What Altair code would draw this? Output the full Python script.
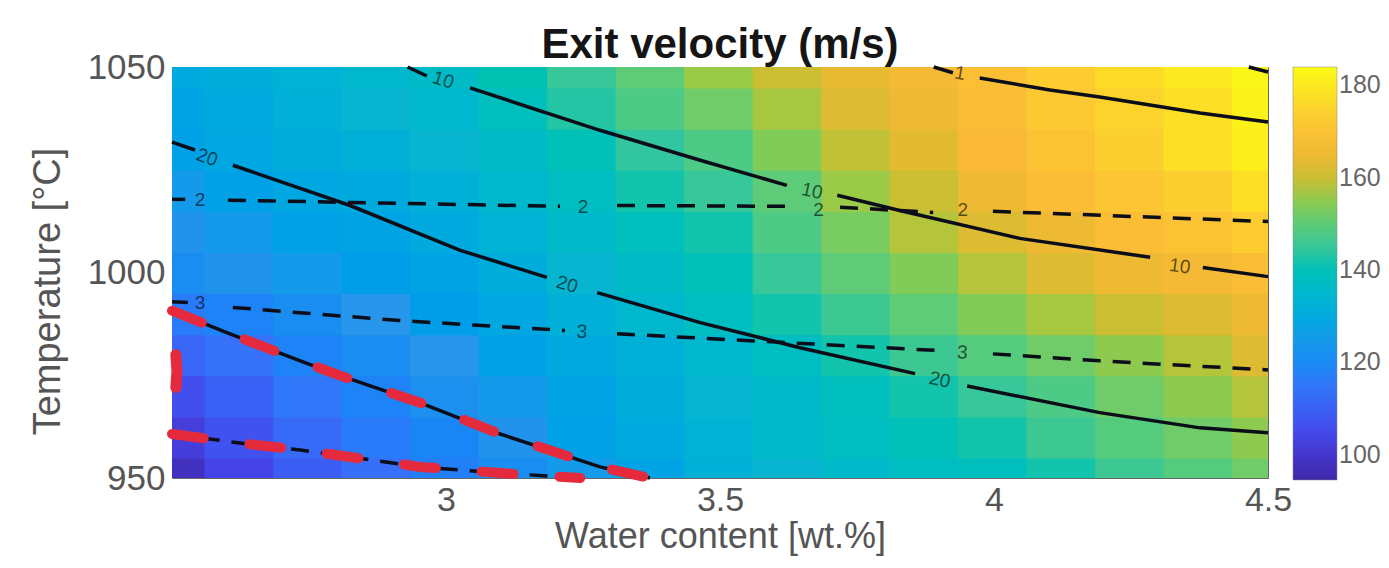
import altair as alt
import pandas as pd

# ---------------- data ----------------
X_NODES = [2.5, 2.625, 2.75, 2.875, 3.0, 3.125, 3.25, 3.375, 3.5,
           3.625, 3.75, 3.875, 4.0, 4.125, 4.25, 4.375, 4.5]
T_NODES = [950, 960, 970, 980, 990, 1000, 1010, 1020, 1030, 1040, 1050]

# exit velocity (m/s), one row per temperature (950 -> 1050)
V_950 = [98, 104, 109, 113, 117, 121, 125, 128, 132, 134, 136, 138, 139, 142, 146, 149, 152]
V_960 = [102, 107, 112, 116, 119, 123, 127, 130, 133, 136, 138, 140, 142, 146, 149, 152, 155]
V_970 = [106, 110, 115, 118, 122, 125, 128, 131, 134, 136, 139, 142, 145, 148, 152, 155, 158]
V_980 = [111, 114, 118, 121, 124, 127, 130, 132, 135, 138, 142, 146, 149, 152, 155, 158, 162]
V_990 = [116, 118, 121, 124, 126, 129, 132, 135, 138, 142, 146, 150, 154, 157, 160, 162, 165]
V_1000 = [121, 123, 125, 126, 128, 131, 134, 137, 140, 145, 150, 154, 158, 162, 165, 166, 168]
V_1010 = [123, 125, 127, 128, 130, 133, 136, 139, 142, 148, 153, 158, 162, 165, 168, 170, 173]
V_1020 = [125, 127, 129, 130, 132, 135, 138, 142, 145, 150, 156, 160, 165, 168, 171, 174, 178]
V_1030 = [127, 129, 131, 132, 134, 137, 140, 144, 148, 154, 159, 163, 167, 170, 174, 178, 181]
V_1040 = [128, 130, 132, 134, 135, 139, 143, 148, 152, 157, 162, 165, 168, 172, 175, 178, 182]
V_1050 = [130, 131, 133, 135, 137, 141, 145, 150, 156, 160, 164, 166, 169, 173, 177, 180, 183]
VELOCITY = [V_950, V_960, V_970, V_980, V_990, V_1000, V_1010, V_1020, V_1030, V_1040, V_1050]

X_TICKS = [3, 3.5, 4, 4.5]
Y_TICKS = [950, 1000, 1050]
CBAR_TICKS = [100, 120, 140, 160, 180]

# parula-like colour stops
C_DOMAIN = [94.5, 104.5, 114, 124, 134, 144, 154, 161, 167, 174, 184]
C_RANGE = ["#3e26a8", "#4646eb", "#3773fa", "#2796eb", "#08b5d0", "#31c69f",
           "#81cc59", "#d7bb32", "#fab937", "#fccf30", "#f9fb15"]

# contour lines (water content, temperature), broken where labelled
SOLID = {
    "1a": ([3.89, 3.925], [1050, 1048.6]),
    "1b": ([3.974, 4.102, 4.193, 4.376, 4.5], [1047.3, 1044.4, 1042.7, 1038.8, 1036.6]),
    "1c": ([4.465, 4.5], [1050, 1048.8]),
    "10a": ([2.93, 2.965], [1050, 1047.8]),
    "10b": ([3.044, 3.281, 3.464, 3.622], [1044.9, 1034.6, 1027.3, 1021.2]),
    "10c": ([3.714, 3.828, 4.047, 4.285], [1018.8, 1015.1, 1008.3, 1003.7]),
    "10d": ([4.381, 4.5], [1001.2, 999.0]),
    "20a": ([2.5, 2.542], [1031.7, 1029.8]),
    "20b": ([2.611, 2.825, 3.026, 3.184], [1026.1, 1016.3, 1005.4, 998.8]),
    "20c": ([3.276, 3.464, 3.646, 3.856], [995.1, 987.8, 981.7, 975.4]),
    "20d": ([3.951, 4.193, 4.376, 4.5], [972.4, 965.9, 962.2, 961.0]),
    "low": ([2.5, 2.6, 2.734, 2.807, 2.953, 3.099, 3.281, 3.372],
            [990.7, 985.4, 978.5, 974.9, 968.3, 960.7, 952.7, 950.0]),
}
DASHED = {
    "2a": ([2.5, 2.524], [1017.8, 1017.8]),
    "2b": ([2.602, 3.208], [1017.6, 1016.1]),
    "2c": ([3.312, 3.633], [1016.3, 1016.1]),
    "2d": ([3.719, 3.889], [1015.9, 1014.6]),
    "2e": ([3.998, 4.5], [1014.9, 1012.4]),
    "3a": ([2.5, 2.529], [992.9, 992.7]),
    "3b": ([2.611, 2.916, 3.217], [991.5, 988.3, 985.9]),
    "3c": ([3.312, 3.555, 3.901], [985.1, 983.4, 981.0]),
    "3d": ([3.998, 4.193, 4.5], [980.2, 978.5, 976.3]),
    "low": ([2.5, 2.624, 2.734, 2.825, 2.953, 3.099, 3.245],
            [960.7, 958.5, 956.8, 955.1, 952.7, 951.2, 950.0]),
}
RED_DASHED = {
    "r1": SOLID["low"],
    "r2": DASHED["low"],
}
RED_EDGE = {"r3": ([2.507, 2.509, 2.507], [980.0, 976.0, 972.0])}

LABEL_TEXT = ["1", "10", "10", "10", "20", "20", "20", "2", "2", "2", "2", "3", "3", "3"]
LABEL_X = [3.938, 2.995, 3.668, 4.339, 2.564, 3.221, 3.901, 2.551, 3.25, 3.68, 3.943, 2.551, 3.248, 3.942]
LABEL_T = [1048.5, 1046.8, 1019.8, 1001.5, 1028.0, 997.1, 973.9, 1017.6, 1015.9, 1015.3, 1015.1, 992.7, 985.6, 980.5]
LABEL_ANGLE = [10, 18, 12, 8, 20, 16, 12, 0, 0, 0, 0, 0, 3, 3]

# ---------------- tables ----------------
HX, HT = 0.0625, 5          # half cell size
OX, OT = 0.003, 0.25        # tiny overlap so no seams show between cells
cells = []
for i, t in enumerate(T_NODES):
    for j, x in enumerate(X_NODES):
        cells.append({
            "x0": max(x - HX - OX, 2.5), "x1": min(x + HX + OX, 4.5),
            "t0": max(t - HT - OT, 950), "t1": min(t + HT + OT, 1050),
            "v": VELOCITY[i][j],
        })
cells_df = pd.DataFrame(cells)


def lines_table(segs):
    rows = []
    for name, (xs, ts) in segs.items():
        for k, (x, t) in enumerate(zip(xs, ts)):
            rows.append({"seg": name, "ord": k, "x": x, "T": t})
    return pd.DataFrame(rows)


solid_df = lines_table(SOLID)
dashed_df = lines_table(DASHED)
red_df = lines_table(RED_DASHED)
edge_df = lines_table(RED_EDGE)
labels_df = pd.DataFrame({"txt": LABEL_TEXT, "x": LABEL_X, "T": LABEL_T, "ang": LABEL_ANGLE})

# ---------------- chart ----------------
FONT = "Liberation Sans"
xscale = alt.Scale(domain=[2.5, 4.5], nice=False, zero=False)
yscale = alt.Scale(domain=[950, 1050], nice=False, zero=False)
cscale = alt.Scale(domain=C_DOMAIN, range=C_RANGE, clamp=True)

xaxis = alt.Axis(title="Water content [wt.%]", values=X_TICKS, format="~g",
                 labelFlush=False, titlePadding=2, labelPadding=5,
                 labelFontSize=34, titleFontSize=36)
yaxis = alt.Axis(title="Temperature [°C]", values=Y_TICKS, format="d",
                 labelFlush=False, labelPadding=7, titleX=-124, titleY=224,
                 titleAngle=270, titleAlign="center", titleBaseline="middle")

heat = alt.Chart(cells_df).mark_rect().encode(
    x=alt.X("x0:Q", scale=xscale, axis=xaxis),
    x2="x1:Q",
    y=alt.Y("t0:Q", scale=yscale, axis=yaxis),
    y2="t1:Q",
    color=alt.Color("v:Q", scale=cscale, legend=alt.Legend(
        type="gradient", title=None, values=CBAR_TICKS, orient="none",
        legendX=1121, legendY=0, direction="vertical",
        gradientLength=413, gradientThickness=44, labelOverlap=False)),
)


def line_layer(df, **mark):
    return alt.Chart(df).mark_line(**mark).encode(
        x=alt.X("x:Q", scale=xscale, axis=xaxis),
        y=alt.Y("T:Q", scale=yscale, axis=yaxis),
        detail="seg:N",
        order="ord:Q",
    )


solid = line_layer(solid_df, color="#0b0d18", strokeWidth=3.5)
dashed = line_layer(dashed_df, color="#0b0d18", strokeWidth=3.5, strokeDash=[18, 12])
red = line_layer(red_df, color="#e62a3e", strokeWidth=10, strokeDash=[32, 46], strokeCap="round")
edge = line_layer(edge_df, color="#e62a3e", strokeWidth=11, strokeCap="round")

labels = alt.Chart(labels_df).mark_text(font=FONT, fontSize=19, color="#000000", opacity=0.6).encode(
    x=alt.X("x:Q", scale=xscale, axis=xaxis),
    y=alt.Y("T:Q", scale=yscale, axis=yaxis),
    text="txt:N",
    angle=alt.Angle("ang:Q", scale=None),
)

chart = alt.layer(heat, solid, dashed, labels, red, edge).properties(
    width=1096,
    height=411,
    title=alt.TitleParams("Exit velocity (m/s)", font=FONT, fontSize=42, fontWeight="bold",
                          color="#151515", anchor="middle", frame="group", offset=0, dy=50,
                          baseline="alphabetic"),
    autosize=alt.AutoSizeParams(type="none"),
    padding={"left": 164, "top": 59, "right": 113, "bottom": 82},
).configure_view(stroke="#666666", strokeWidth=1).configure_axis(
    domain=False, ticks=False, grid=False,
    labelFont=FONT, labelFontSize=35, labelColor="#555555",
    titleFont=FONT, titleFontSize=38, titleColor="#555555", titleFontWeight="normal",
).configure_legend(
    labelFont=FONT, labelFontSize=25, labelColor="#666666", labelOffset=5,
    gradientStrokeColor="#888888", gradientStrokeWidth=0.5,
    gradientVerticalMaxLength=413, gradientVerticalMinLength=413,
)

chart.save("out.html", embed_options={"renderer": "svg", "actions": False})
